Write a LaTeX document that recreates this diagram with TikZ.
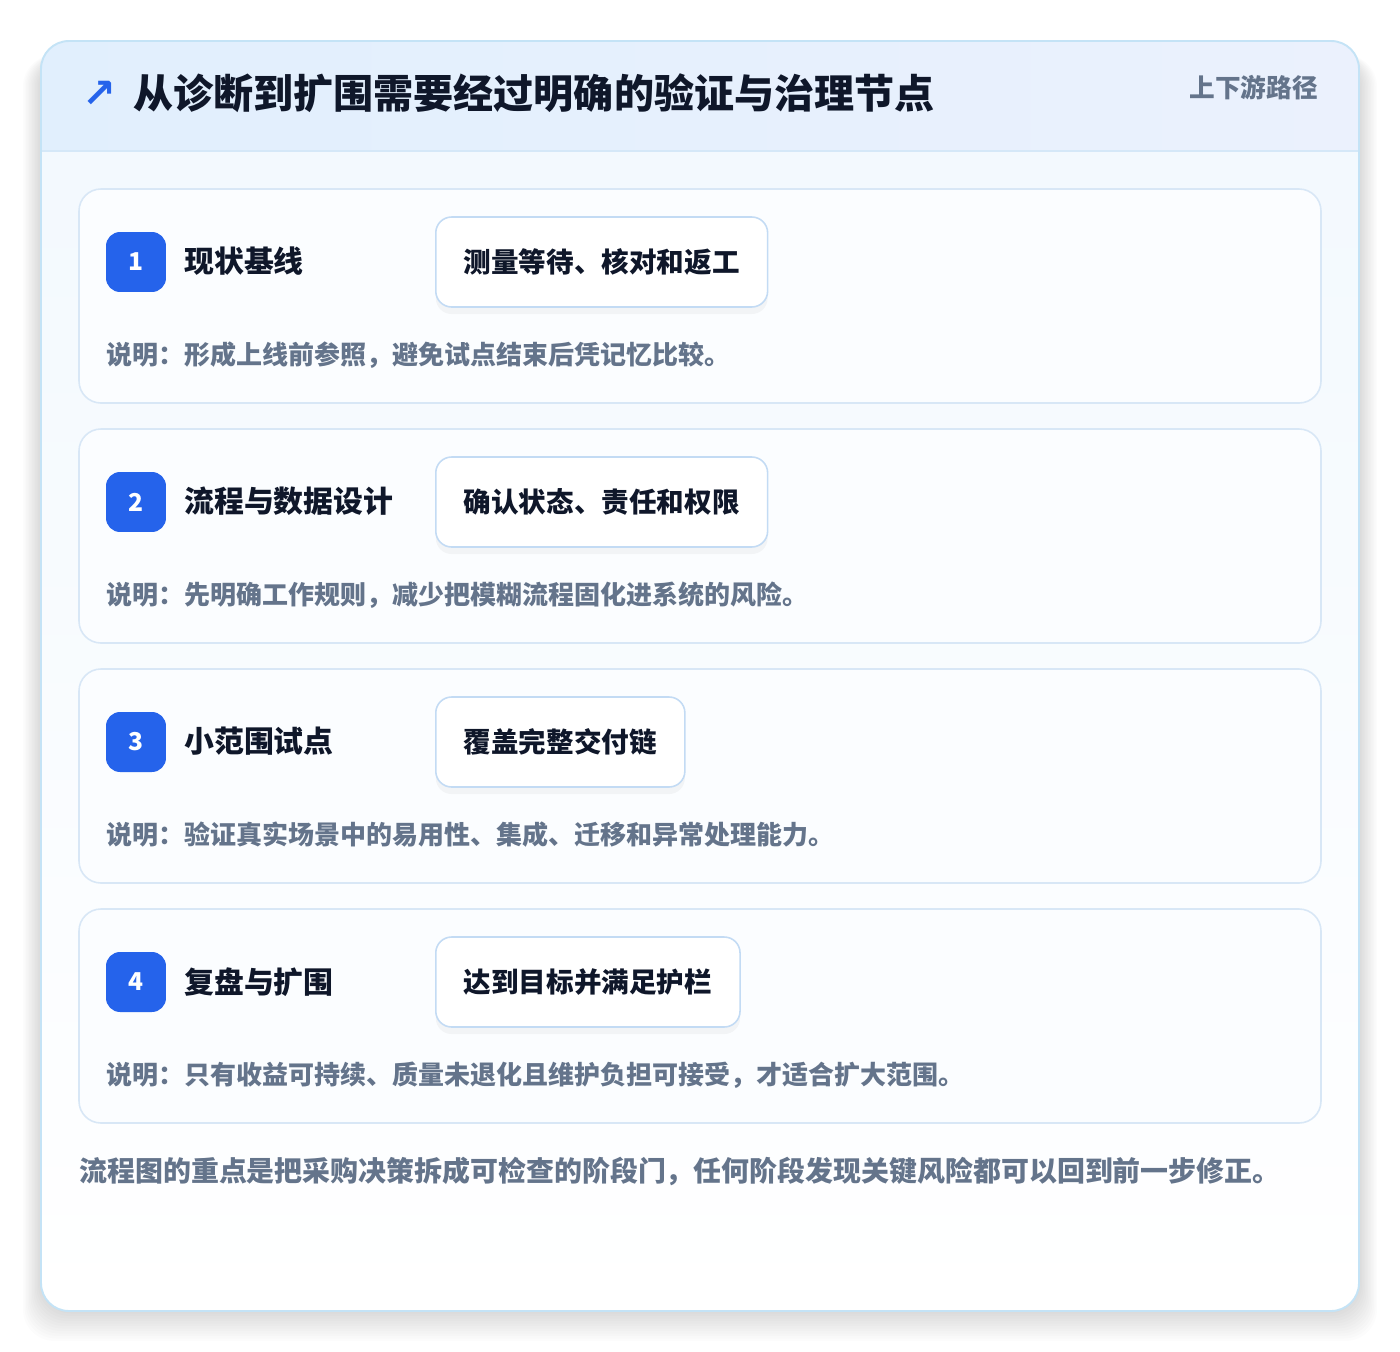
\documentclass[tikz,border=0pt]{standalone}
\usepackage{fontspec}
\newfontfamily\cjk{Noto Sans CJK SC}
\newfontfamily\symfont{DejaVu Sans}
\usetikzlibrary{shadows}

\definecolor{brandblue}{HTML}{2563EB}
\definecolor{inkdark}{HTML}{0F172A}
\definecolor{inkgray}{HTML}{64748B}
\definecolor{frameblue}{HTML}{C4E3F6}
\definecolor{headleft}{HTML}{E1EFFD}
\definecolor{headright}{HTML}{EBF1FD}
\definecolor{headrule}{HTML}{D5E8F8}
\definecolor{bodytop}{HTML}{F3F9FE}
\definecolor{cardline}{HTML}{D8E7F6}
\definecolor{cardfill}{HTML}{FBFDFF}
\definecolor{pillline}{HTML}{C3DBF4}

\begin{document}
\begin{tikzpicture}[x=0.02cm,y=-0.02cm,
  stagecard/.style={draw=cardline,fill=cardfill,line width=0.9pt,rounded corners=12.5pt},
  badge/.style={fill=brandblue,text=white,rounded corners=8pt,minimum width=1.2cm,minimum height=1.2cm,
    inner sep=0pt,font=\cjk\bfseries\fontsize{14}{16}\selectfont},
  stagetitle/.style={anchor=west,inner sep=0pt,text=inkdark,font=\cjk\bfseries\fontsize{17}{20}\selectfont},
  pill/.style={anchor=west,draw=pillline,fill=white,line width=0.9pt,rounded corners=9pt,
    minimum height=1.8cm,inner xsep=0.56cm,text=inkdark,font=\cjk\bfseries\fontsize{15.7}{19}\selectfont,
    drop shadow={opacity=0.07,shadow xshift=0pt,shadow yshift=-4pt}},
  note/.style={anchor=west,inner sep=0pt,text=inkgray,font=\cjk\bfseries\fontsize{14.8}{18}\selectfont}]

\useasboundingbox (0,0) rectangle (1400,1352);
\fill[white] (0,0) rectangle (1400,1352);

%Schatten
\foreach \k in {1,...,12}
  \fill[black,opacity=0.01,rounded corners=18pt] (41-1.5*\k,41+14) rectangle (1359+1.5*\k,1311+2.5*\k);

%Rahmen
\begin{scope}
\clip[rounded corners=15.9pt] (41,41) rectangle (1359,1311);
\shade[top color=bodytop,bottom color=white] (41,151) rectangle (1359,1311);
\shade[left color=headleft,right color=headright] (41,41) rectangle (1359,151);
\end{scope}
\draw[headrule,line width=0.9pt] (41,151) -- (1359,151);
\draw[frameblue,line width=1.1pt,rounded corners=15.9pt] (41,41) rectangle (1359,1311);

%Kopfzeile
\node[anchor=center,inner sep=0pt,text=brandblue,font=\symfont\bfseries\fontsize{23}{26}\selectfont] (arrow) at (99,94) {↗};
\node[anchor=west,inner sep=0pt,text=inkdark,font=\cjk\bfseries\fontsize{22.8}{27}\selectfont] (title) at (133,93) {从诊断到扩围需要经过明确的验证与治理节点};
\node[anchor=east,inner sep=0pt,text=inkgray,font=\cjk\bfseries\fontsize{14.6}{18}\selectfont] (tag) at (1318,88) {上下游路径};

%Stufe 1
\draw[stagecard] (79,189) rectangle (1321,403);
\node[badge] (badge1) at (136,262) {1};
\node[stagetitle] (name1) at (184,261) {现状基线};
\node[pill] (gate1) at (435,262) {测量等待、核对和返工};
\node[note] (note1) at (106,355) {说明：形成上线前参照，避免试点结束后凭记忆比较。};

%Stufe 2
\draw[stagecard] (79,429) rectangle (1321,643);
\node[badge] (badge2) at (136,502) {2};
\node[stagetitle] (name2) at (184,501) {流程与数据设计};
\node[pill] (gate2) at (435,502) {确认状态、责任和权限};
\node[note] (note2) at (106,595) {说明：先明确工作规则，减少把模糊流程固化进系统的风险。};

%Stufe 3
\draw[stagecard] (79,669) rectangle (1321,883);
\node[badge] (badge3) at (136,742) {3};
\node[stagetitle] (name3) at (184,741) {小范围试点};
\node[pill] (gate3) at (435,742) {覆盖完整交付链};
\node[note] (note3) at (106,835) {说明：验证真实场景中的易用性、集成、迁移和异常处理能力。};

%Stufe 4
\draw[stagecard] (79,909) rectangle (1321,1123);
\node[badge] (badge4) at (136,982) {4};
\node[stagetitle] (name4) at (184,982) {复盘与扩围};
\node[pill] (gate4) at (435,982) {达到目标并满足护栏};
\node[note] (note4) at (106,1075) {说明：只有收益可持续、质量未退化且维护负担可接受，才适合扩大范围。};

%Fazit
\node[anchor=west,inner sep=0pt,text=inkgray,font=\cjk\bfseries\fontsize{15.9}{19}\selectfont] (summary) at (79,1171) {流程图的重点是把采购决策拆成可检查的阶段门，任何阶段发现关键风险都可以回到前一步修正。};

\end{tikzpicture}
\end{document}
